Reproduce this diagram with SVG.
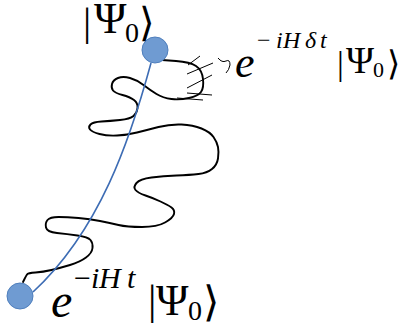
<svg xmlns="http://www.w3.org/2000/svg" width="402" height="326" viewBox="0 0 402 326">
<style>
.node{fill:#6f9bd2;stroke:#4f7fbd;stroke-width:1}
.geo{fill:none;stroke:#3d6cb4;stroke-width:1.6}
.walk{fill:none;stroke:#000;stroke-width:1.9;stroke-linejoin:round;stroke-linecap:round}
.hatch{fill:none;stroke:#000;stroke-width:1}
.m{font-family:"Liberation Serif","DejaVu Serif",serif;fill:#000}
.it{font-style:italic}
.br{font-family:"DejaVu Sans",sans-serif;font-weight:200}
</style>
<rect width="402" height="326" fill="#fff"/>
<g id="connectors">
<path class="walk" d="M162,60 L176,61 Q190,62 196,66 Q202,70 203,79 Q204,88 201,92 Q198,96 189,98 Q180,100 171.5,99 Q163,98 156.5,94 Q150,90 143.5,85 Q137,80 130,78 Q123,76 118,78 Q113,80 112,84 Q111,88 113,90.5 Q115,93 122.5,95 Q130,97 134,100 Q138,103 137.5,108 Q137,113 133.5,116 Q130,119 120,120 Q110,121 101.5,121.5 Q93,122 90.5,124.5 Q88,127 90,129.5 Q92,132 99.5,134 Q107,136 117,135.5 Q127,135 137,132.5 Q147,130 158.5,127 Q170,124 181.5,124.5 Q193,125 201.5,128.5 Q210,132 213.5,137 Q217,142 218,147 Q219,152 218,158.5 Q217,165 212,169 Q207,173 198.5,174 Q190,175 176.5,175.5 Q163,176 151.5,177.5 Q140,179 136.5,183 Q133,187 135.5,190 Q138,193 145.5,195.5 Q153,198 160.5,201.5 Q168,205 171.5,207.5 Q175,210 174,214 Q173,218 165,222.5 Q157,227 142,227 Q127,227 118.5,225 Q110,223 100,221 Q90,219 78.5,218 Q67,217 58.5,217 Q50,217 47.5,220 Q45,223 46,227.5 Q47,232 57,233 Q67,234 77.5,235.5 Q88,237 90.5,240 Q93,243 92.5,248 Q92,253 86,257.5 Q80,262 70,265 Q60,268 51.5,270 Q43,272 35.5,272.5 Q28,273 27,274.5 Q26,276 24.5,279 L23,282"/>
<path class="geo" d="M151,63 C130,140 100,230 33,292"/>
</g>
<g id="emission">
<line class="hatch" x1="188" y1="65" x2="200" y2="56"/>
<line class="hatch" x1="187" y1="74" x2="213" y2="63"/>
<line class="hatch" x1="187" y1="88" x2="212" y2="75"/>
<line class="hatch" x1="187" y1="93" x2="212" y2="95"/>
<line class="hatch" x1="177" y1="98" x2="203" y2="100"/>
<path class="hatch" d="M218,58 Q222,63 226,61 Q230,59 230,65 Q229,70 226,73"/>
</g>
<g id="state-initial">
<circle class="node" cx="155" cy="50" r="13"/>
<text class="m" font-size="44"><tspan x="83" y="35" font-size="41">|</tspan><tspan x="94" y="33">Ψ</tspan><tspan x="125" y="42" font-size="28">0</tspan><tspan class="br" x="139" y="36" font-size="40">⟩</tspan></text>
</g>
<g id="state-step">
<text class="m" font-size="44"><tspan class="it" x="235" y="77">e</tspan><tspan x="257" y="48" font-size="24">−</tspan><tspan class="it" x="276" y="48" font-size="24">i</tspan><tspan class="it" x="283" y="48" font-size="24">H</tspan><tspan class="it" x="305" y="48" font-size="24">δ</tspan><tspan class="it" x="320" y="48" font-size="24">t</tspan><tspan x="337" y="75" font-size="34">|</tspan><tspan x="346" y="73" font-size="38">Ψ</tspan><tspan x="373" y="77" font-size="22">0</tspan><tspan class="br" x="387" y="75" font-size="34">⟩</tspan></text>
</g>
<g id="state-final">
<circle class="node" cx="20" cy="296" r="13"/>
<text class="m" font-size="48"><tspan class="it" x="51" y="317">e</tspan><tspan x="74" y="288" font-size="30">−</tspan><tspan class="it" x="91" y="288" font-size="30">i</tspan><tspan class="it" x="99" y="288" font-size="30">H</tspan><tspan class="it" x="127" y="288" font-size="30">t</tspan><tspan x="148" y="314" font-size="42">|</tspan><tspan x="156" y="315" font-size="44">Ψ</tspan><tspan x="188" y="320" font-size="28">0</tspan><tspan class="br" x="203" y="316" font-size="42">⟩</tspan></text>
</g>
</svg>
